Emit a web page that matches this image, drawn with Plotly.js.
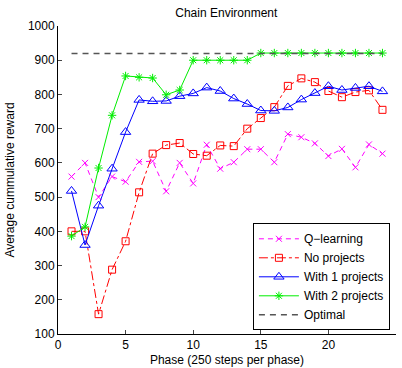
<!DOCTYPE html>
<html>
<head>
<meta charset="utf-8">
<script src="https://cdn.plot.ly/plotly-3.0.1.min.js"></script>
<style>html,body{margin:0;padding:0;background:#fff;}#chart{width:402px;height:368px;}</style>
</head>
<body>
<div id="chart"></div>
<script>
const phases = [1,2,3,4,5,6,7,8,9,10,11,12,13,14,15,16,17,18,19,20,21,22,23,24];
const qLearning = [560,600,500,560,545,603,605,517,600,540,653,583,602,640,640,602,684,675,657,620,641,587,654,627];
const noProjects = [400,400,158,288,371,514,627,652,658,626,621,651,649,700,731,763,825,847,836,810,792,807,812,755];
const with1Projects = [518,360,475,583,690,784,780,781,795,803,820,810,788,772,753,752,762,785,804,824,813,819,824,809];
const with2Projects = [386,413,585,739,854,850,848,799,813,900,900,900,900,900,921,921,921,921,921,921,921,921,921,921];
const optimalX = [1,24];
const optimalY = [920,920];
const seriesNames = ["Q\u2212learning","No projects","With 1 projects","With 2 projects","Optimal"];

const traces = [
  {x: phases, y: qLearning, name: seriesNames[0], mode: 'lines+markers',
   line: {color: '#ff00ff', width: 1, dash: '5px,4px'},
   marker: {symbol: 'x-thin-open', size: 6, color: '#ff00ff', line: {color: '#ff00ff', width: 1}}},
  {x: phases, y: noProjects, name: seriesNames[1], mode: 'lines+markers',
   line: {color: '#ff0000', width: 1, dash: 'dashdot'},
   marker: {symbol: 'square-open', size: 7, color: '#ff0000', line: {color: '#ff0000', width: 1}}},
  {x: phases, y: with1Projects, name: seriesNames[2], mode: 'lines+markers',
   line: {color: '#0000ff', width: 1},
   marker: {symbol: 'triangle-up-open', size: 9, color: '#0000ff', line: {color: '#0000ff', width: 1}}},
  {x: phases, y: with2Projects, name: seriesNames[3], mode: 'lines+markers',
   line: {color: '#00ee00', width: 1},
   marker: {symbol: 'asterisk-open', size: 7, color: '#00ee00', line: {color: '#00ee00', width: 1}}},
  {x: optimalX, y: optimalY, name: seriesNames[4], mode: 'lines',
   line: {color: '#555555', width: 1.5, dash: '6px,5px'}}
];

const axisFont = {family: 'Liberation Sans, Arial, sans-serif', size: 12, color: '#000'};
const layout = {
  width: 402, height: 368,
  margin: {l: 58, r: 6, t: 26, b: 34},
  paper_bgcolor: '#fff', plot_bgcolor: '#fff',
  font: axisFont,
  title: {text: 'Chain Environment', font: {size: 12, color: '#000'}, x: 0.563, xanchor: 'center', y: 0.965, yanchor: 'middle'},
  showlegend: true,
  legend: {x: 0.982, y: 0.012, xanchor: 'right', yanchor: 'bottom',
    bordercolor: '#000', borderwidth: 1, bgcolor: '#fff',
    font: {size: 12, color: '#000'}, itemwidth: 40, tracegroupgap: 0,
    traceorder: 'normal'},
  xaxis: {range: [0, 25], tickvals: [0,5,10,15,20,25], ticks: 'inside', ticklen: 4,
    showline: true, linecolor: '#000', linewidth: 1, showgrid: false, zeroline: false,
    mirror: false, tickfont: axisFont,
    title: {text: 'Phase (250 steps per phase)', font: axisFont, standoff: 4}},
  yaxis: {range: [100, 1000], tickvals: [100,200,300,400,500,600,700,800,900,1000], ticks: 'inside', ticklen: 4,
    showline: true, linecolor: '#000', linewidth: 1, showgrid: false, zeroline: false,
    mirror: false, tickfont: axisFont,
    title: {text: 'Average cummulative reward', font: axisFont, standoff: 10}}
};

Plotly.newPlot('chart', traces, layout, {displayModeBar: false, staticPlot: true});
</script>
</body>
</html>
